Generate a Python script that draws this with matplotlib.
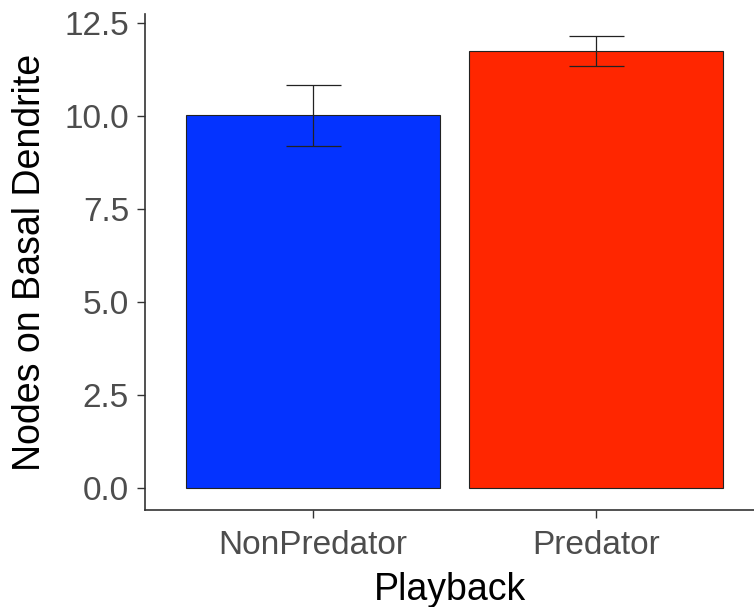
import matplotlib.pyplot as plt

plt.rcParams['font.family'] = ['Liberation Sans', 'DejaVu Sans']

playback = ["NonPredator", "Predator"]
nodes_mean = [10.02, 11.75]
err_low = [9.20, 11.33]
err_high = [10.84, 12.16]
bar_colors = ["#0433FF", "#FF2600"]

fig = plt.figure(figsize=(7.54, 6.07), dpi=100)
ax = fig.add_axes([145 / 754, 97 / 607, 609 / 754, 496 / 607])

xs = list(range(1, len(playback) + 1))
ax.bar(xs, nodes_mean, width=0.9, color=bar_colors, edgecolor="#222222", linewidth=0.8, zorder=2)

yerr = [[m - lo for m, lo in zip(nodes_mean, err_low)],
        [hi - m for m, hi in zip(nodes_mean, err_high)]]
ax.errorbar(xs, nodes_mean, yerr=yerr, fmt="none", ecolor="#222222",
            elinewidth=0.9, capsize=19.8, capthick=0.9, zorder=3)

ax.set_xlim(0.406, 2.558)
ax.set_ylim(-0.59, 12.74)
ax.set_xticks(xs)
ax.set_xticklabels(playback)
ax.set_yticks([0, 2.5, 5, 7.5, 10, 12.5])
ax.set_yticklabels(["0.0", "2.5", "5.0", "7.5", "10.0", "12.5"])

for s in ["top", "right"]:
    ax.spines[s].set_visible(False)
for s in ["left", "bottom"]:
    ax.spines[s].set_color("#333333")
    ax.spines[s].set_linewidth(1.2)

ax.tick_params(axis="both", colors="#333333", length=5.5, width=1.0,
               labelsize=24, labelcolor="#4d4d4d")
ax.tick_params(axis="y", pad=6)
ax.tick_params(axis="x", pad=9)

ax.set_xlabel("Playback", fontsize=27, color="black", labelpad=8)
ax.set_ylabel("Nodes on Basal Dendrite", fontsize=27, color="black", labelpad=12)

fig.savefig("out.png", dpi=100)
